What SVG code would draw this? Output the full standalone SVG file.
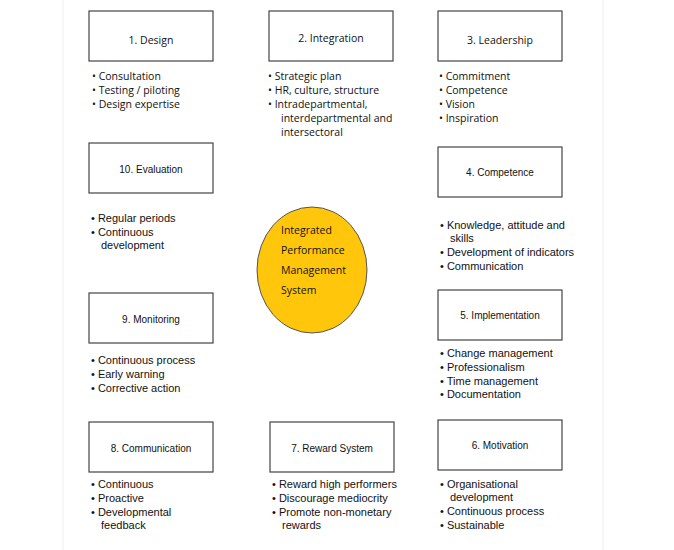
<svg xmlns="http://www.w3.org/2000/svg" width="674" height="550" viewBox="0 0 674 550">
<style>
.box{fill:#fff;stroke:#444;stroke-width:1.2}
.c{font-family:"Open Sans","Liberation Sans",sans-serif;font-size:10.5px;fill:#111}
.a{font-family:"Liberation Sans",Arial,sans-serif;font-size:11px;fill:#111}
.l{font-family:"Liberation Sans",Arial,sans-serif;font-size:10px;fill:#111}
.t{text-anchor:middle}
</style>
<rect width="674" height="550" fill="#fff"/>
<line x1="63" y1="0" x2="63" y2="550" stroke="#eee"/>
<line x1="603" y1="0" x2="603" y2="550" stroke="#eee"/>
<g id="n1"><rect class="box" x="89" y="11" width="124" height="50"/><text class="c t" x="151" y="44" font-size="11.5">1. Design</text>
<text class="c" x="92" y="80">• Consultation</text><text class="c" x="92" y="94">• Testing / piloting</text><text class="c" x="92" y="108">• Design expertise</text></g>
<g id="n2"><rect class="box" x="269" y="11" width="124" height="50"/><text class="c t" x="331" y="42" font-size="11.5">2. Integration</text>
<text class="c" x="268" y="80">• Strategic plan</text><text class="c" x="268" y="94">• HR, culture, structure</text><text class="c" x="268" y="108">• Intradepartmental,</text><text class="c" x="281" y="122">interdepartmental and</text><text class="c" x="281" y="136">intersectoral</text></g>
<g id="n3"><rect class="box" x="438" y="11" width="124" height="50"/><text class="c t" x="500" y="44" font-size="11.5">3. Leadership</text>
<text class="c" x="439" y="80">• Commitment</text><text class="c" x="439" y="94">• Competence</text><text class="c" x="439" y="108">• Vision</text><text class="c" x="439" y="122">• Inspiration</text></g>
<g id="n10"><rect class="box" x="89" y="143" width="124" height="50"/><text class="l t" x="151" y="173">10. Evaluation</text>
<text class="a" x="91" y="222">• Regular periods</text><text class="a" x="91" y="236">• Continuous</text><text class="a" x="101" y="249">development</text></g>
<g id="n4"><rect class="box" x="438" y="147" width="124" height="50"/><text class="l t" x="500" y="176">4. Competence</text>
<text class="a" x="440" y="229">• Knowledge, attitude and</text><text class="a" x="450" y="242">skills</text><text class="a" x="440" y="256">• Development of indicators</text><text class="a" x="440" y="270">• Communication</text></g>
<g id="center"><ellipse cx="312" cy="270" rx="55" ry="63" fill="#FFC60B" stroke="#555"/>
<text class="c" x="281" y="234" font-size="13.5">Integrated</text><text class="c" x="281" y="254" font-size="13.5">Performance</text><text class="c" x="281" y="274" font-size="13.5">Management</text><text class="c" x="281" y="294" font-size="13.5">System</text></g>
<g id="n9"><rect class="box" x="89" y="293" width="124" height="50"/><text class="l t" x="151" y="323">9. Monitoring</text>
<text class="a" x="91" y="364">• Continuous process</text><text class="a" x="91" y="378">• Early warning</text><text class="a" x="91" y="392">• Corrective action</text></g>
<g id="n5"><rect class="box" x="438" y="290" width="124" height="50"/><text class="l t" x="500" y="319">5. Implementation</text>
<text class="a" x="440" y="357">• Change management</text><text class="a" x="440" y="371">• Professionalism</text><text class="a" x="440" y="385">• Time management</text><text class="a" x="440" y="398">• Documentation</text></g>
<g id="n8"><rect class="box" x="89" y="422" width="124" height="50"/><text class="l t" x="151" y="452">8. Communication</text>
<text class="a" x="91" y="488">• Continuous</text><text class="a" x="91" y="502">• Proactive</text><text class="a" x="91" y="516">• Developmental</text><text class="a" x="101" y="529">feedback</text></g>
<g id="n7"><rect class="box" x="270" y="422" width="124" height="50"/><text class="l t" x="332" y="452">7. Reward System</text>
<text class="a" x="272" y="488">• Reward high performers</text><text class="a" x="272" y="502">• Discourage mediocrity</text><text class="a" x="272" y="516">• Promote non-monetary</text><text class="a" x="282" y="529">rewards</text></g>
<g id="n6"><rect class="box" x="438" y="420" width="124" height="50"/><text class="l t" x="500" y="449">6. Motivation</text>
<text class="a" x="440" y="488">• Organisational</text><text class="a" x="450" y="501">development</text><text class="a" x="440" y="515">• Continuous process</text><text class="a" x="440" y="529">• Sustainable</text></g>
<g id="connectors"></g>
</svg>
